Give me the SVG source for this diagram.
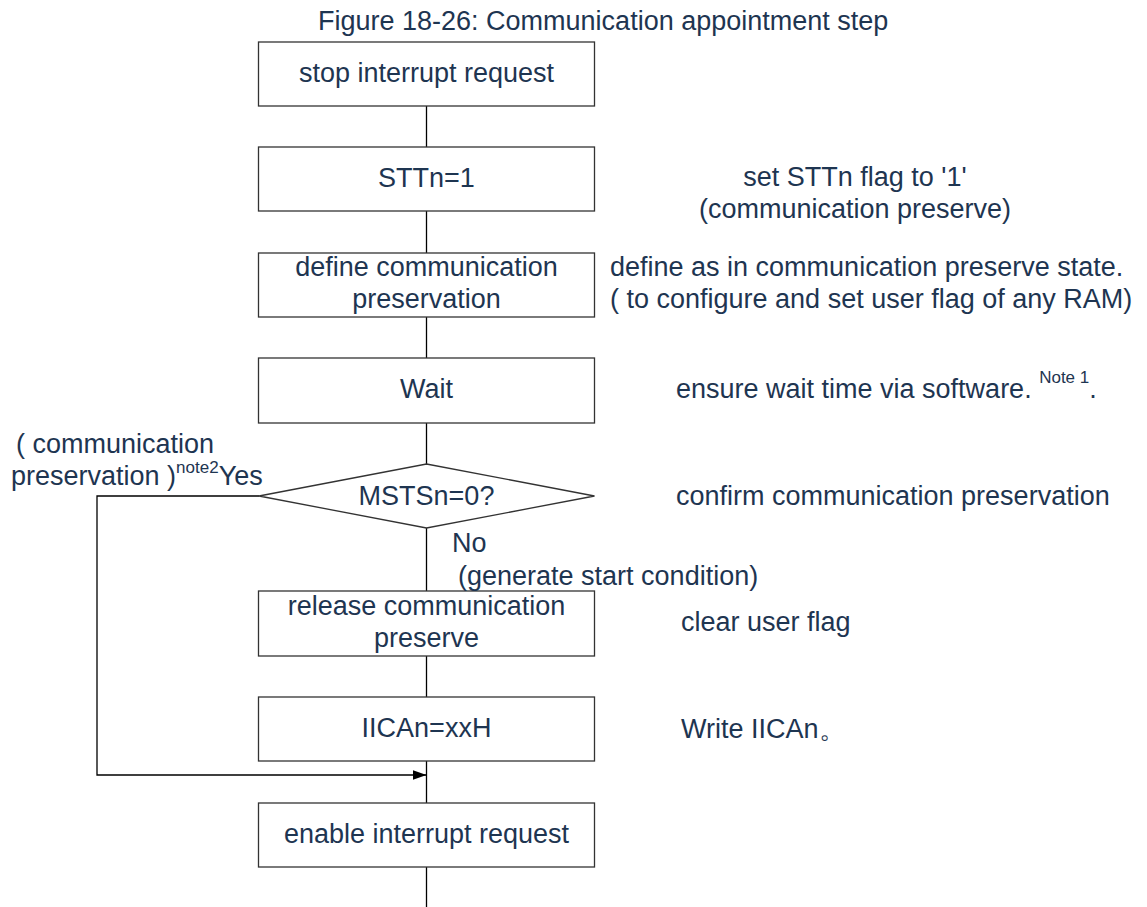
<svg xmlns="http://www.w3.org/2000/svg" width="1147" height="907" viewBox="0 0 1147 907">
<style>
  text { font-family: "Liberation Sans", Arial, sans-serif; fill: #1e3551; }
  .t { font-size: 27px; }
  .c { text-anchor: middle; }
  .sup { font-size: 17px; }
  .box { fill: #ffffff; stroke: #333333; stroke-width: 1.3; }
  .ln { fill: none; stroke: #000000; stroke-width: 1.3; }
</style>
<defs>
  <marker id="arr" viewBox="0 0 14 10" refX="14" refY="5" markerWidth="14" markerHeight="10" markerUnits="userSpaceOnUse" orient="auto">
    <path d="M0,0 L14,5 L0,10 Z" fill="#000000"/>
  </marker>
</defs>
<rect width="1147" height="907" fill="#ffffff"/>
<text id="title" class="t" x="318" y="30" font-size="26">Figure 18-26: Communication appointment step</text>

<g id="connectors">
  <line class="ln" x1="426.5" y1="106" x2="426.5" y2="147"/>
  <line class="ln" x1="426.5" y1="211" x2="426.5" y2="253"/>
  <line class="ln" x1="426.5" y1="317" x2="426.5" y2="358"/>
  <line class="ln" x1="426.5" y1="423" x2="426.5" y2="464"/>
  <line class="ln" x1="426.5" y1="528" x2="426.5" y2="591"/>
  <line class="ln" x1="426.5" y1="656" x2="426.5" y2="697"/>
  <line class="ln" x1="426.5" y1="761" x2="426.5" y2="803"/>
  <line class="ln" x1="426.5" y1="867" x2="426.5" y2="907"/>
  <polyline class="ln" points="259,496 97,496 97,775 426.5,775" marker-end="url(#arr)"/>
</g>

<g id="n1">
  <rect class="box" x="258.5" y="42" width="336" height="64"/>
  <text class="t c" x="426.5" y="82">stop interrupt request</text>
</g>
<g id="n2">
  <rect class="box" x="258.5" y="147" width="336" height="64"/>
  <text class="t c" x="426.5" y="187">STTn=1</text>
</g>
<g id="n3">
  <rect class="box" x="258.5" y="253" width="336" height="64"/>
  <text class="t c" x="426.5" y="276">define communication</text>
  <text class="t c" x="426.5" y="308">preservation</text>
</g>
<g id="n4">
  <rect class="box" x="258.5" y="358" width="336" height="65"/>
  <text class="t c" x="426.5" y="398">Wait</text>
</g>
<g id="d1">
  <polygon class="box" points="426.5,464 594.5,496 426.5,528 259,496"/>
  <text class="t c" x="426.5" y="505">MSTSn=0?</text>
</g>
<g id="n5">
  <rect class="box" x="258.5" y="591" width="336" height="65"/>
  <text class="t c" x="426.5" y="615">release communication</text>
  <text class="t c" x="426.5" y="647">preserve</text>
</g>
<g id="n6">
  <rect class="box" x="258.5" y="697" width="336" height="64"/>
  <text class="t c" x="426.5" y="737">IICAn=xxH</text>
</g>
<g id="n7">
  <rect class="box" x="258.5" y="803" width="336" height="64"/>
  <text class="t c" x="426.5" y="843">enable interrupt request</text>
</g>

<g id="labels">
  <text class="t" x="16" y="453">( communication</text>
  <text class="t" x="11" y="485">preservation )<tspan class="sup" dy="-12">note2</tspan><tspan dy="12">Yes</tspan></text>
  <text class="t" x="452" y="552">No</text>
  <text class="t" x="458" y="585">(generate start condition)</text>
</g>

<g id="notes">
  <text class="t c" x="855" y="186">set STTn flag to '1'</text>
  <text class="t c" x="855" y="218">(communication preserve)</text>
  <text class="t" x="610" y="276">define as in communication preserve state.</text>
  <text class="t" x="610" y="308">( to configure and set user flag of any RAM)</text>
  <text class="t" x="676" y="398">ensure wait time via software. <tspan class="sup" dy="-15">Note 1</tspan><tspan dy="15">.</tspan></text>
  <text class="t" x="676" y="505">confirm communication preservation</text>
  <text class="t" x="681" y="631">clear user flag</text>
  <text class="t" x="681" y="738">Write IICAn。</text>
</g>
</svg>
